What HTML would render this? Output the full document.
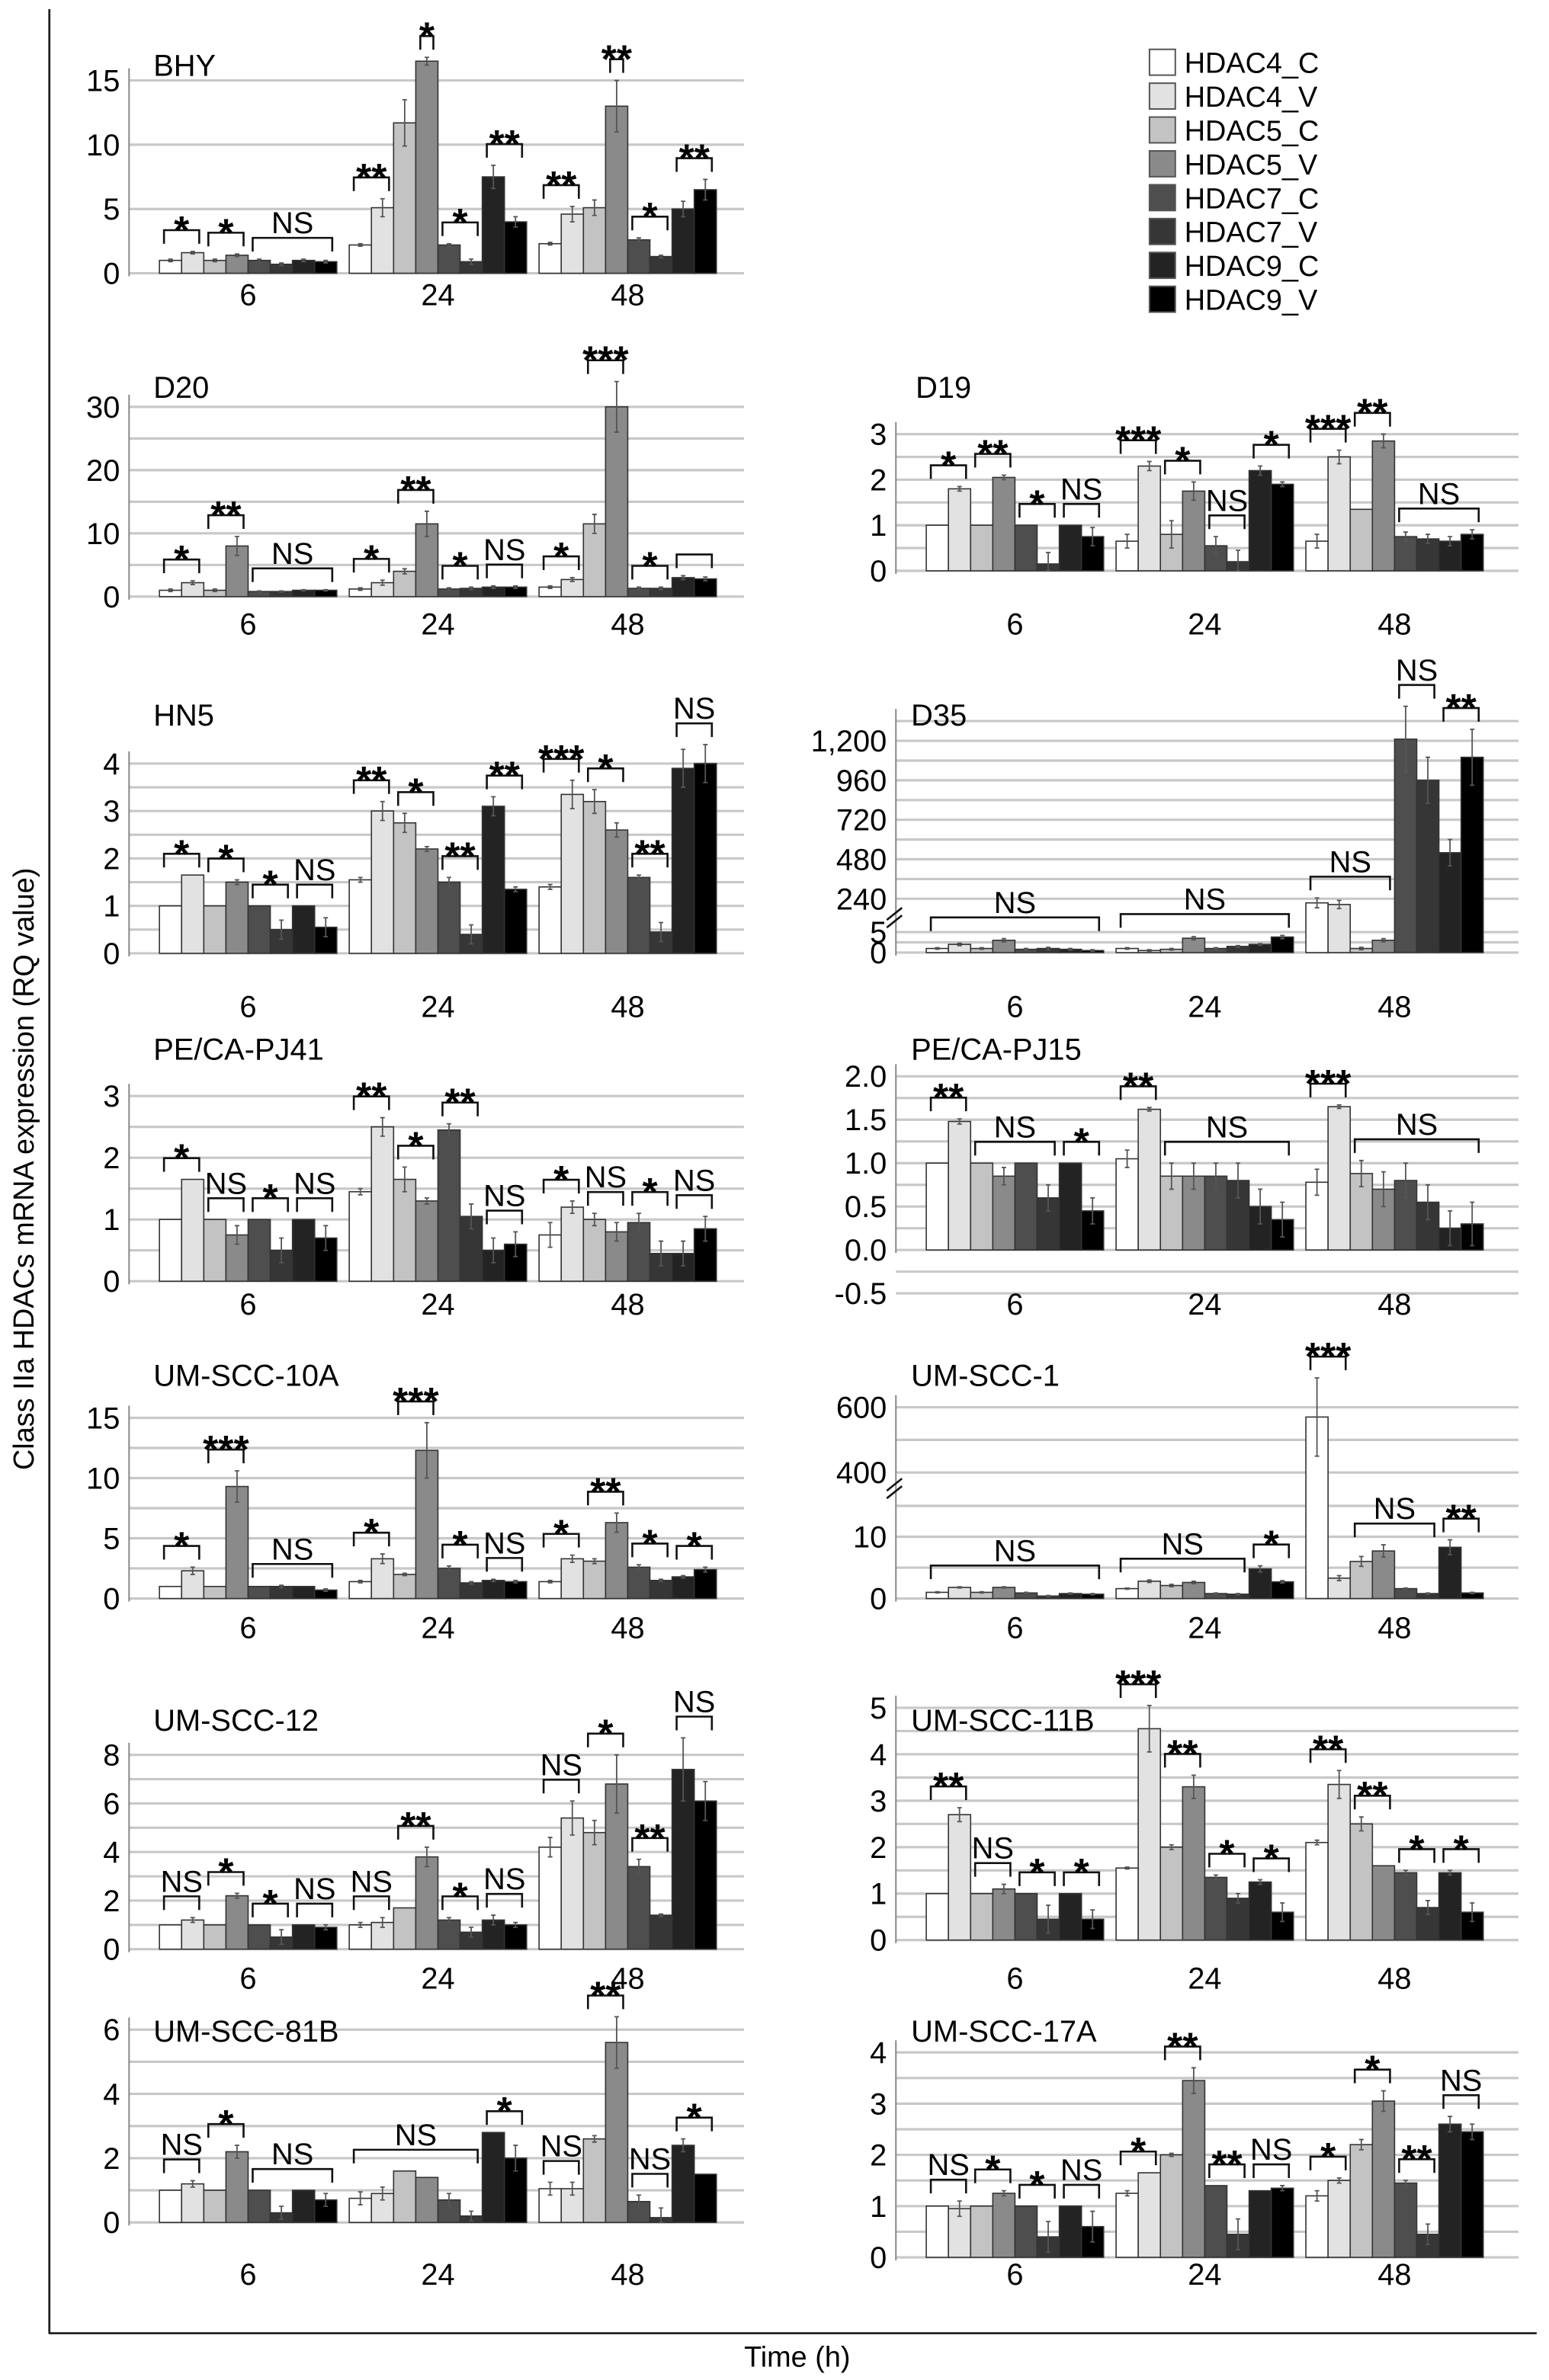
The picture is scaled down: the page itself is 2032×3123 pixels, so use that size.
<!DOCTYPE html>
<html><head><meta charset="utf-8"><style>
html,body{margin:0;padding:0;background:#fff;}
svg{display:block;font-family:"Liberation Sans",Arial,sans-serif;}
</style></head><body>
<svg id="fig" width="2032" height="3123" viewBox="0 0 1020.1 1567.8" xmlns="http://www.w3.org/2000/svg">
<line x1="32.5" y1="6" x2="32.5" y2="1537" stroke="#222" stroke-width="1.4"/>
<line x1="32" y1="1537" x2="1012" y2="1537" stroke="#222" stroke-width="1.4"/>
<text x="0" y="0" transform="translate(22,770) rotate(-90)" text-anchor="middle" font-size="19">Class IIa HDACs mRNA expression (RQ value)</text>
<text x="525" y="1559" text-anchor="middle" font-size="19">Time (h)</text>
<g id="legend"></g>
<g id="panels"></g>
</svg>
<script>
const categories = ["6","24","48"];
const seriesNames = ["HDAC4_C","HDAC4_V","HDAC5_C","HDAC5_V","HDAC7_C","HDAC7_V","HDAC9_C","HDAC9_V"];
const seriesColors = ["#ffffff","#e2e2e2","#c3c3c3","#8a8a8a","#4e4e4e","#363636","#232323","#000000"];

const bhyValues = [[1,1.6,1,1.4,1,0.7,1,0.9],[2.2,5.1,11.7,16.5,2.2,0.9,7.5,4],[2.3,4.6,5.1,13,2.6,1.3,5,6.5]];
const bhyErrors = [[0.1,0.1,0.1,0.1,0.1,0.1,0.1,0.1],[0.1,0.7,1.8,0.3,0.1,0.2,0.9,0.4],[0.1,0.6,0.6,2,0.15,0.1,0.6,0.8]];
const bhySig = [[0,0,1,"*"],[0,2,3,"*"],[0,4,7,"NS"],[1,0,1,"**"],[1,3,3,"*"],[1,4,5,"*"],[1,6,7,"**"],[2,0,1,"**"],[2,3,3,"**"],[2,4,5,"*"],[2,6,7,"**"]];

const d20Values = [[1,2.2,1,8,0.8,0.8,1,1],[1.2,2.2,4,11.5,1.2,1.3,1.5,1.5],[1.5,2.7,11.5,30,1.3,1.3,3,2.8]];
const d20Errors = [[0.2,0.3,0.2,1.5,0.1,0.1,0.1,0.1],[0.2,0.4,0.4,2,0.2,0.2,0.2,0.2],[0.2,0.3,1.5,4,0.2,0.2,0.3,0.3]];
const d20Sig = [[0,0,1,"*"],[0,2,3,"**"],[0,4,7,"NS"],[1,0,1,"*"],[1,2,3,"**"],[1,4,5,"*"],[1,6,7,"NS"],[2,0,1,"*"],[2,2,3,"***"],[2,4,5,"*"],[2,6,7,""]];

const d19Values = [[1,1.8,1,2.05,1,0.15,1,0.75],[0.65,2.3,0.8,1.75,0.55,0.2,2.2,1.9],[0.65,2.5,1.35,2.85,0.75,0.7,0.65,0.8]];
const d19Errors = [[0,0.05,0,0.05,0,0.25,0,0.2],[0.15,0.1,0.3,0.2,0.2,0.25,0.1,0.05],[0.15,0.15,0,0.15,0.1,0.1,0.1,0.1]];
const d19Sig = [[0,0,1,"*"],[0,2,3,"**"],[0,4,5,"*"],[0,6,7,"NS"],[1,0,1,"***"],[1,2,3,"*"],[1,4,5,"NS"],[1,6,7,"*"],[2,0,1,"***"],[2,2,3,"**"],[2,4,7,"NS"]];

const hn5Values = [[1,1.65,1,1.5,1,0.5,1,0.55],[1.55,3,2.75,2.2,1.5,0.4,3.1,1.35],[1.4,3.35,3.2,2.6,1.6,0.45,3.9,4]];
const hn5Errors = [[0,0,0,0.05,0,0.2,0,0.2],[0.05,0.2,0.2,0.05,0.1,0.2,0.2,0.05],[0.05,0.3,0.25,0.15,0.05,0.2,0.4,0.4]];
const hn5Sig = [[0,0,1,"*"],[0,2,3,"*"],[0,4,5,"*"],[0,6,7,"NS"],[1,0,1,"**"],[1,2,3,"*"],[1,4,5,"**"],[1,6,7,"**"],[2,0,1,"***"],[2,2,3,"*"],[2,4,5,"**"],[2,6,7,"NS"]];

const d35Values = [[1,2,1,3,0.8,1,0.8,0.5],[1,0.5,0.8,3.5,1,1.5,2,3.8],[215,205,1,3,1210,960,520,1100]];
const d35Errors = [[0.2,0.3,0.2,0.4,0.2,0.3,0.2,0.2],[0.2,0.2,0.2,0.4,0.2,0.2,0.2,0.4],[30,25,0.3,0.4,200,140,80,170]];
const d35Sig = [[0,0,7,"NS"],[1,0,7,"NS"],[2,0,3,"NS"],[2,4,5,"NS"],[2,6,7,"**"]];

const pj41Values = [[1,1.65,1,0.75,1,0.5,1,0.7],[1.45,2.5,1.65,1.3,2.45,1.05,0.5,0.6],[0.75,1.2,1,0.8,0.95,0.45,0.45,0.85]];
const pj41Errors = [[0,0,0,0.15,0,0.2,0,0.2],[0.05,0.15,0.2,0.05,0.1,0.2,0.2,0.2],[0.2,0.1,0.1,0.15,0.15,0.2,0.2,0.2]];
const pj41Sig = [[0,0,1,"*"],[0,2,3,"NS"],[0,4,5,"*"],[0,6,7,"NS"],[1,0,1,"**"],[1,2,3,"*"],[1,4,5,"**"],[1,6,7,"NS"],[2,0,1,"*"],[2,2,3,"NS"],[2,4,5,"*"],[2,6,7,"NS"]];

const pj15Values = [[1,1.48,1,0.85,1,0.6,1,0.45],[1.05,1.62,0.85,0.85,0.85,0.8,0.5,0.35],[0.78,1.65,0.88,0.7,0.8,0.55,0.25,0.3]];
const pj15Errors = [[0,0.03,0,0.1,0,0.15,0,0.15],[0.1,0.02,0.15,0.15,0.15,0.2,0.2,0.2],[0.15,0.02,0.15,0.2,0.2,0.2,0.2,0.25]];
const pj15Sig = [[0,0,1,"**"],[0,2,5,"NS"],[0,6,7,"*"],[1,0,1,"**"],[1,2,7,"NS"],[2,0,1,"***"],[2,2,7,"NS"]];

const scc10aValues = [[1,2.3,1,9.3,1,1,1,0.7],[1.4,3.3,2,12.3,2.5,1.3,1.5,1.4],[1.4,3.3,3.1,6.3,2.6,1.5,1.8,2.4]];
const scc10aErrors = [[0,0.3,0,1.3,0,0.1,0,0.1],[0.1,0.4,0.1,2.3,0.2,0.1,0.1,0.1],[0.1,0.3,0.2,0.8,0.2,0.1,0.1,0.2]];
const scc10aSig = [[0,0,1,"*"],[0,2,3,"***"],[0,4,7,"NS"],[1,0,1,"*"],[1,2,3,"***"],[1,4,5,"*"],[1,6,7,"NS"],[2,0,1,"*"],[2,2,3,"**"],[2,4,5,"*"],[2,6,7,"*"]];

const scc1Values = [[1,1.8,1,1.8,0.9,0.4,0.8,0.7],[1.6,2.8,2.1,2.6,0.8,0.7,4.8,2.7],[570,3.3,6,7.7,1.6,0.8,8.3,0.9]];
const scc1Errors = [[0.1,0.1,0.1,0.1,0.1,0.1,0.1,0.1],[0.1,0.2,0.2,0.2,0.1,0.1,0.5,0.2],[120,0.4,0.8,1,0.1,0.1,1.2,0.1]];
const scc1Sig = [[0,0,7,"NS"],[1,0,5,"NS"],[1,6,7,"*"],[2,0,1,"***"],[2,2,5,"NS"],[2,6,7,"**"]];

const scc12Values = [[1,1.2,1,2.2,1,0.5,1,0.9],[1,1.1,1.7,3.8,1.2,0.7,1.2,1],[4.2,5.4,4.8,6.8,3.4,1.4,7.4,6.1]];
const scc12Errors = [[0,0.1,0,0.1,0,0.3,0,0.1],[0.1,0.2,0,0.4,0.1,0.2,0.2,0.1],[0.4,0.7,0.5,1.2,0.3,0.05,1.3,0.8]];
const scc12Sig = [[0,0,1,"NS"],[0,2,3,"*"],[0,4,5,"*"],[0,6,7,"NS"],[1,0,1,"NS"],[1,2,3,"**"],[1,4,5,"*"],[1,6,7,"NS"],[2,0,1,"NS"],[2,2,3,"*"],[2,4,5,"**"],[2,6,7,"NS"]];

const scc11bValues = [[1,2.7,1,1.1,1,0.45,1,0.45],[1.55,4.55,2,3.3,1.35,0.9,1.25,0.6],[2.1,3.35,2.5,1.6,1.45,0.7,1.45,0.6]];
const scc11bErrors = [[0,0.15,0,0.1,0,0.3,0,0.2],[0.02,0.5,0.05,0.25,0.05,0.1,0.05,0.2],[0.05,0.3,0.15,0,0.05,0.15,0.05,0.2]];
const scc11bSig = [[0,0,1,"**"],[0,2,3,"NS"],[0,4,5,"*"],[0,6,7,"*"],[1,0,1,"***"],[1,2,3,"**"],[1,4,5,"*"],[1,6,7,"*"],[2,0,1,"**"],[2,2,3,"**"],[2,4,5,"*"],[2,6,7,"*"]];

const scc81bValues = [[1,1.2,1,2.2,1,0.3,1,0.7],[0.75,0.9,1.6,1.4,0.7,0.2,2.8,2],[1.05,1.05,2.6,5.6,0.65,0.15,2.4,1.5]];
const scc81bErrors = [[0,0.1,0,0.2,0,0.2,0,0.2],[0.2,0.2,0,0,0.2,0.15,0,0.4],[0.2,0.2,0.1,0.8,0.2,0.3,0.2,0]];
const scc81bSig = [[0,0,1,"NS"],[0,2,3,"*"],[0,4,7,"NS"],[1,0,5,"NS"],[1,6,7,"*"],[2,0,1,"NS"],[2,2,3,"**"],[2,4,5,"NS"],[2,6,7,"*"]];

const scc17aValues = [[1,0.95,1,1.25,1,0.4,1,0.6],[1.25,1.65,2,3.45,1.4,0.45,1.3,1.35],[1.2,1.5,2.2,3.05,1.45,0.45,2.6,2.45]];
const scc17aErrors = [[0,0.15,0,0.05,0,0.3,0,0.3],[0.05,0,0.03,0.25,0,0.3,0,0.05],[0.1,0.05,0.1,0.2,0.05,0.2,0.15,0.15]];
const scc17aSig = [[0,0,1,"NS"],[0,2,3,"*"],[0,4,5,"*"],[0,6,7,"NS"],[1,0,1,"*"],[1,2,3,"**"],[1,4,5,"**"],[1,6,7,"NS"],[2,0,1,"*"],[2,2,3,"*"],[2,4,5,"**"],[2,6,7,"NS"]];

function range(a,b,s){const r=[];for(let v=a;v<=b+1e-9;v+=s)r.push(+v.toFixed(4));return r;}
const L=85, R=590;
const panels=[
 {name:"BHY",ax:L,right:490,dom:[0,15],px:[180,53],ticks:[0,5,10,15],grid:[0,5,10,15],tx:101,ty:50,cy:201,v:bhyValues,e:bhyErrors,s:bhySig},
 {name:"D20",ax:L,right:490,dom:[0,30],px:[393,268],ticks:[0,10,20,30],grid:range(0,30,5),tx:101,ty:262,cy:418,v:d20Values,e:d20Errors,s:d20Sig},
 {name:"D19",ax:R,right:1000,dom:[0,3],px:[376,286],ticks:[0,1,2,3],grid:range(0,3,0.5),tx:603,ty:262,cy:418,v:d19Values,e:d19Errors,s:d19Sig},
 {name:"HN5",ax:L,right:490,dom:[0,4],px:[628,503],ticks:[0,1,2,3,4],grid:range(0,4,0.5),tx:101,ty:478,cy:670,v:hn5Values,e:hn5Errors,s:hn5Sig},
 {name:"D35",ax:R,right:1000,dom:[0,5,150,1200],px:[627.5,614,601.8,488],ticks:[0,5,240,480,720,960,1200],tl:["0","5","240","480","720","960","1,200"],grid:[0,2.5,5].concat(range(240,1320,120)),brk:605,tx:600,ty:478,cy:670,v:d35Values,e:d35Errors,s:d35Sig},
 {name:"PE/CA-PJ41",ax:L,right:490,dom:[0,3],px:[844,722],ticks:[0,1,2,3],grid:range(0,3,0.5),tx:101,ty:698,cy:866,v:pj41Values,e:pj41Errors,s:pj41Sig},
 {name:"PE/CA-PJ15",ax:R,right:1000,dom:[-0.5,2],px:[852,709],ticks:[-0.5,0,0.5,1,1.5,2],tl:["-0.5","0.0","0.5","1.0","1.5","2.0"],grid:range(-0.5,2,0.25),tx:600,ty:698,cy:866,v:pj15Values,e:pj15Errors,s:pj15Sig},
 {name:"UM-SCC-10A",ax:L,right:490,dom:[0,15],px:[1053,934],ticks:[0,5,10,15],grid:range(0,15,2.5),tx:101,ty:913,cy:1079,v:scc10aValues,e:scc10aErrors,s:scc10aSig},
 {name:"UM-SCC-1",ax:R,right:1000,dom:[0,15,400,600],px:[1053,992,970,927],ticks:[0,10,400,600],grid:[0,5,10,15,400,500,600],brk:981,tx:600,ty:913,cy:1079,v:scc1Values,e:scc1Errors,s:scc1Sig},
 {name:"UM-SCC-12",ax:L,right:490,dom:[0,8],px:[1284,1156],ticks:[0,2,4,6,8],grid:range(0,8,1),tx:101,ty:1140,cy:1310,v:scc12Values,e:scc12Errors,s:scc12Sig},
 {name:"UM-SCC-11B",ax:R,right:1000,dom:[0,5],px:[1278,1125],ticks:[0,1,2,3,4,5],grid:range(0,5,0.5),tx:600,ty:1140,cy:1310,v:scc11bValues,e:scc11bErrors,s:scc11bSig},
 {name:"UM-SCC-81B",ax:L,right:490,dom:[0,6],px:[1464,1337],ticks:[0,2,4,6],grid:range(0,6,1),tx:101,ty:1345,cy:1505,v:scc81bValues,e:scc81bErrors,s:scc81bSig},
 {name:"UM-SCC-17A",ax:R,right:1000,dom:[0,4],px:[1487,1352],ticks:[0,1,2,3,4],grid:range(0,4,0.5),tx:600,ty:1345,cy:1505,v:scc17aValues,e:scc17aErrors,s:scc17aSig}
];
const NS="http://www.w3.org/2000/svg";
function mk(tag,attrs,parent){const el=document.createElementNS(NS,tag);for(const k in attrs)el.setAttribute(k,attrs[k]);parent.appendChild(el);return el;}
function yScale(p,v){const d=p.dom,q=p.px;let i=0;while(i<d.length-2&&v>d[i+1])i++;return q[i]+(v-d[i])/(d[i+1]-d[i])*(q[i+1]-q[i]);}
const BW=14.6, GW=125;
function xBar(p,g,i){return p.ax+20+GW*g+BW*i;}

const root=document.getElementById('panels');
panels.forEach(p=>{
  const slug=p.name.toLowerCase().replace(/[^a-z0-9]+/g,'-');
  const g=mk('g',{},root);
  
  
  const y0=yScale(p,Math.max(0,p.dom[0]));
  p.grid.forEach(v=>{
    const gl=mk('line',{x1:p.ax,x2:p.right,y1:yScale(p,v),y2:yScale(p,v),stroke:'#c8c8c8','stroke-width':1.6},g);
    
    
  });
  const topY=yScale(p,p.grid[p.grid.length-1]);
  const ax=mk('line',{x1:p.ax,x2:p.ax,y1:topY-8,y2:y0+2,stroke:'#888','stroke-width':1},g);
  
  
  p.ticks.forEach((v,k)=>{
    const t=mk('text',{x:p.ax-6,y:yScale(p,v)+7,'text-anchor':'end','font-size':20},g);
    t.textContent=p.tl?p.tl[k]:String(v);
    
    
  });
  if(p.brk){
    const b=mk('path',{d:`M${p.ax-6},${p.brk+1} L${p.ax+4},${p.brk-7} M${p.ax-6},${p.brk+6} L${p.ax+4},${p.brk-2}`,stroke:'#111','stroke-width':1.3,fill:'none'},g);
    
    
  }
  const title=mk('text',{x:p.tx,y:p.ty,'font-size':20},g);
  title.textContent=p.name;
  
  
  categories.forEach((c,gi)=>{
    const t=mk('text',{x:xBar(p,gi,0)+BW*4,y:p.cy,'text-anchor':'middle','font-size':20},g);
    t.textContent=c;
    
    
    p.v[gi].forEach((val,i)=>{
      const x=xBar(p,gi,i), yv=yScale(p,val), yb=y0;
      const r=mk('rect',{x:x,y:Math.min(yv,yb),width:BW,height:Math.abs(yb-yv),fill:seriesColors[i],stroke:'#333','stroke-width':0.8},g);
      
      
      const er=p.e[gi][i];
      if(er>0){
        const cx=x+BW/2, y1=yScale(p,val+er), y2=yScale(p,Math.max(p.dom[0],val-er));
        const eb=mk('path',{d:`M${cx},${y1} L${cx},${y2} M${cx-1.5},${y1} L${cx+1.5},${y1} M${cx-1.5},${y2} L${cx+1.5},${y2}`,stroke:'#555','stroke-width':0.9,fill:'none'},g);
        
        
      }
    });
  });
  p.s.forEach(([gi,a,b,lab])=>{
    let top=1e9;
    for(let i=a;i<=b;i++){top=Math.min(top,yScale(p,p.v[gi][i]+p.e[gi][i]));}
    const x1=xBar(p,gi,a)+3, x2=(a===b)?xBar(p,gi,b)+BW-3:xBar(p,gi,b)+BW-3;
    const yb=top-5, yt=top-14;
    const br=mk('path',{d:`M${x1},${yb} L${x1},${yt} L${x2},${yt} L${x2},${yb}`,stroke:'#111','stroke-width':1.3,fill:'none'},g);
    
    
    if(lab){
      const star=lab.indexOf('*')>=0;
      const t=mk('text',{x:(x1+x2)/2,y:star?yt+9:yt-3,'text-anchor':'middle','font-size':star?26:20,'font-weight':star?'bold':'normal'},g);
      t.textContent=lab;
      
      
    }
  });
});
const lg=document.getElementById('legend');
seriesNames.forEach((n,i)=>{
  const cy=41+22.3*i;
  const r=mk('rect',{x:757,y:cy-8.5,width:17,height:17,fill:seriesColors[i],stroke:'#555','stroke-width':1},lg);
  
  
  const t=mk('text',{x:780,y:cy+7,'font-size':19},lg);
  t.textContent=n;
  
  
});
</script>
</body></html>
